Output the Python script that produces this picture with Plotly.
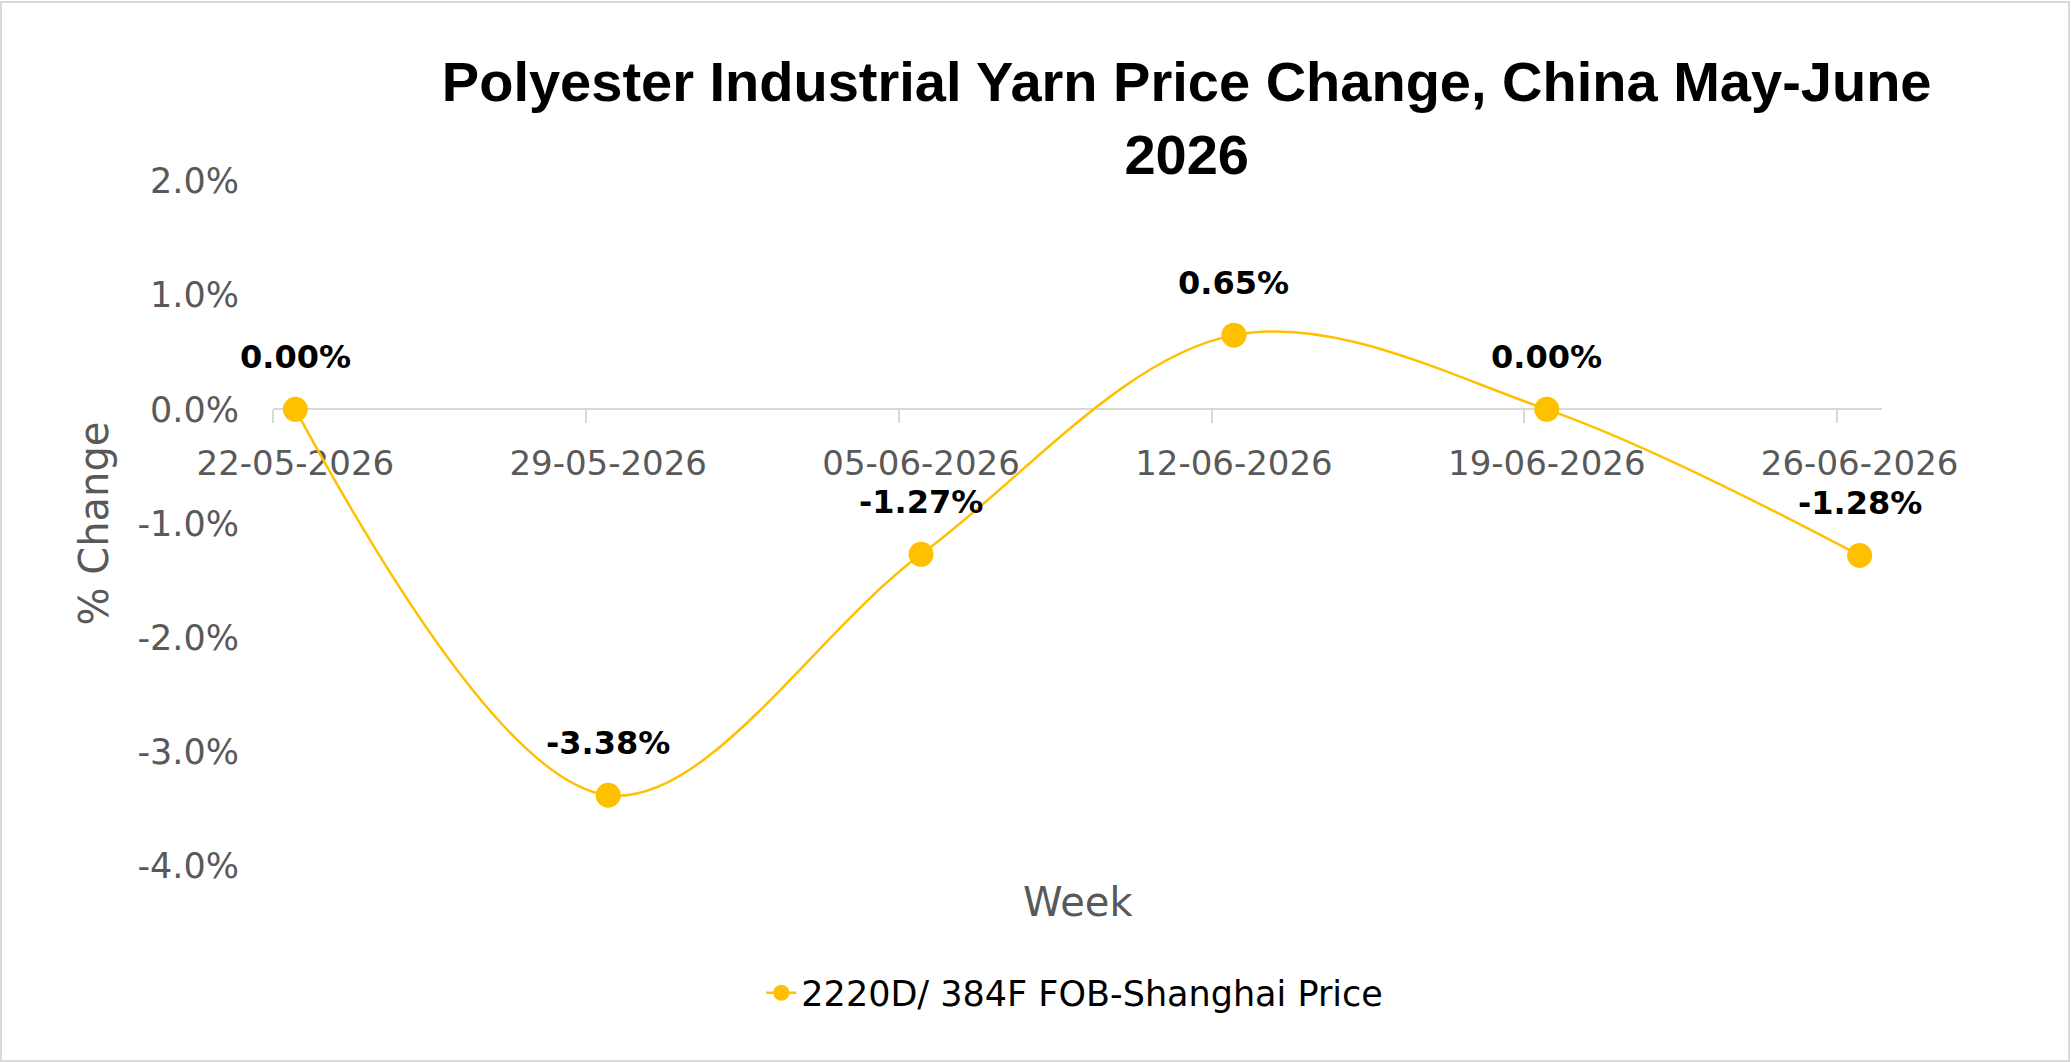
import pandas as pd
import plotly.graph_objects as go

# ---- data ----
week_labels = ["22-05-2026", "29-05-2026", "05-06-2026", "12-06-2026", "19-06-2026", "26-06-2026"]
pct_change = [0.00, -3.38, -1.27, 0.65, 0.00, -1.28]
series_name = "2220D/ 384F FOB-Shanghai Price"
y_tick_vals = [-4.0, -3.0, -2.0, -1.0, 0.0, 1.0, 2.0]

title_text = "Polyester Industrial Yarn Price Change, China May-June<br>2026"

# ---- derived positions (dates -> day centres, Excel date-axis style) ----
day_starts = pd.to_datetime(week_labels, format="%d-%m-%Y")
day_centres = day_starts + pd.Timedelta(hours=12)
x_end = day_starts[-1] + pd.Timedelta(days=1)

GOLD = "#FFC000"
GRAY_TXT = "#595959"
AXIS_GRAY = "#D9D9D9"
W, H = 2071, 1062
ML, MR, MT, MB = 273, 189, 181, 196

fig = go.Figure()
fig.add_trace(go.Scatter(
    x=day_centres, y=pct_change, name=series_name,
    mode="lines+markers",
    line=dict(color=GOLD, width=2.5, shape="spline", smoothing=1.0),
    marker=dict(color=GOLD, size=25, line=dict(width=0)),
    cliponaxis=False,
))

# data labels
for xc, v in zip(day_centres, pct_change):
    fig.add_annotation(
        x=xc, y=v, xref="x", yref="y", text=f"{v:.2f}%", showarrow=False,
        yshift=52, yanchor="middle", xanchor="center",
        font=dict(family="DejaVu Sans", size=32, color="black", weight="bold"),
    )

ymin, ymax = y_tick_vals[0], y_tick_vals[-1]
zero_pos = (0 - ymin) / (ymax - ymin)

fig.update_layout(
    width=W, height=H,
    paper_bgcolor="white", plot_bgcolor="white",
    margin=dict(l=ML, r=MR, t=MT, b=MB, autoexpand=False),
    title=dict(
        text=title_text, x=0.573, xref="container", xanchor="center",
        y=1 - 101 / H, yref="container", yanchor="top",
        font=dict(family="Liberation Sans", size=56, color="black", weight="bold"),
    ),
    showlegend=True,
    legend=dict(
        orientation="h", xref="container", yref="container",
        x=0.519, xanchor="center", y=1 - 993 / H, yanchor="middle",
        font=dict(family="DejaVu Sans", size=35, color="black"),
        bgcolor="rgba(0,0,0,0)",
    ),
    xaxis=dict(
        type="date", range=[day_starts[0], x_end],
        anchor="free", position=zero_pos,
        showline=True, linecolor=AXIS_GRAY, linewidth=2,
        showgrid=False, zeroline=False,
        tickmode="array", tickvals=day_centres, ticktext=week_labels,
        ticks="outside", ticklen=0, tickcolor=AXIS_GRAY,
        tickfont=dict(family="DejaVu Sans", size=34, color=GRAY_TXT),
        ticklabelstandoff=24,
        minor=dict(tickmode="array", tickvals=day_starts, ticks="outside",
                   ticklen=13, tickwidth=2, tickcolor=AXIS_GRAY, showgrid=False),
        layer="below traces", automargin=False,
    ),
    yaxis=dict(
        range=[ymin, ymax], tickmode="array", tickvals=y_tick_vals,
        ticktext=[f"{v:.1f}%" for v in y_tick_vals],
        showgrid=False, zeroline=False, showline=False, ticks="",
        tickfont=dict(family="DejaVu Sans", size=35, color=GRAY_TXT),
        ticklabelstandoff=33,
        title=dict(text="% Change", standoff=16,
                   font=dict(family="DejaVu Sans", size=40, color=GRAY_TXT)),
        automargin=False,
    ),
)

# x-axis title (axis line sits at zero, so the title is placed under the plot area)
fig.add_annotation(
    text="Week", xref="paper", yref="paper", x=0.5, y=-(902 - (H - MB)) / (H - MT - MB),
    showarrow=False, xanchor="center", yanchor="middle",
    font=dict(family="DejaVu Sans", size=40, color=GRAY_TXT),
)

# chart-area border
pw, ph = W - ML - MR, H - MT - MB
fig.add_shape(
    type="rect", xref="paper", yref="paper",
    x0=(1 - ML) / pw, x1=(W - 2 - ML) / pw,
    y0=(1 - MB) / ph, y1=(H - 2 - MB) / ph,
    line=dict(color=AXIS_GRAY, width=2), fillcolor="rgba(0,0,0,0)", layer="below",
)

fig.write_html("out.html")
